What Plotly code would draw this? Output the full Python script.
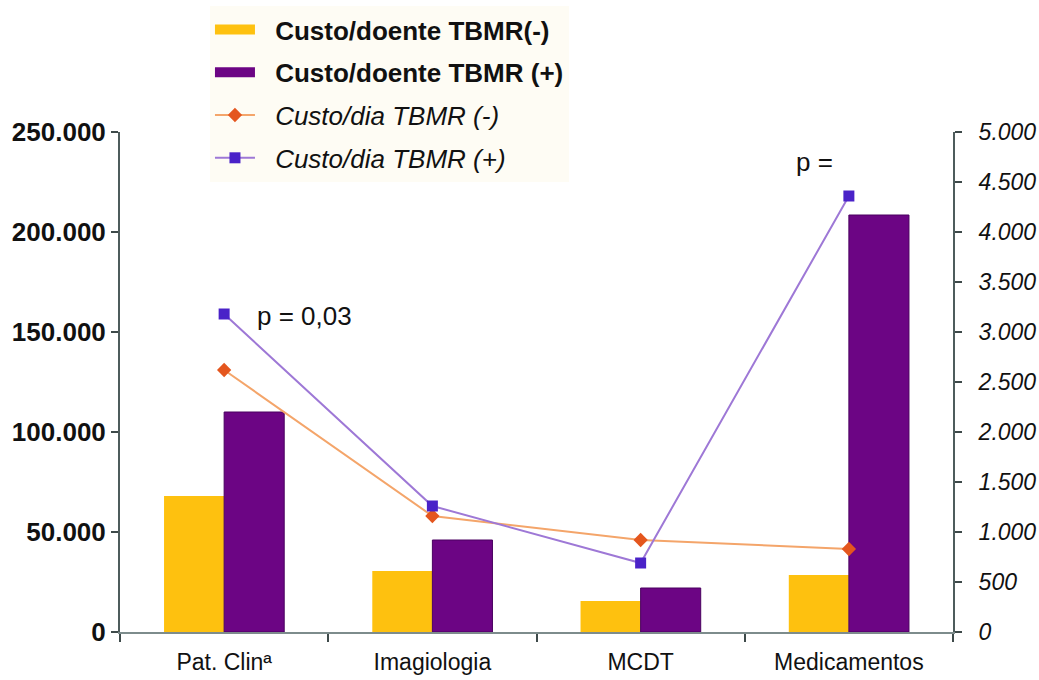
import plotly.graph_objects as go

categories = ["Pat. Clinª", "Imagiologia", "MCDT", "Medicamentos"]
custo_doente_neg = [68000, 30500, 15500, 28500]
custo_doente_pos = [110000, 46000, 22000, 208500]
custo_dia_neg = [2620, 1160, 920, 830]
custo_dia_pos = [3180, 1260, 690, 4360]
left_ticks = [0, 50000, 100000, 150000, 200000, 250000]
right_ticks = [0, 500, 1000, 1500, 2000, 2500, 3000, 3500, 4000, 4500, 5000]

FONT = "Liberation Sans, Arial, sans-serif"
ORANGE = "#FEC10F"
PURPLE = "#6C0584"
PAD = "\u2002\u200a"

fig = go.Figure()
# legend-only entries (wide swatches like the original)
fig.add_trace(go.Scatter(
    x=[categories[0]], y=[None], mode="lines", name=PAD + "<b>Custo/doente TBMR(-)</b>",
    line=dict(color=ORANGE, width=20), legendgroup="a", hoverinfo="skip"))
fig.add_trace(go.Scatter(
    x=[categories[0]], y=[None], mode="lines", name=PAD + "<b>Custo/doente TBMR (+)</b>",
    line=dict(color=PURPLE, width=20), legendgroup="b", hoverinfo="skip"))

fig.add_trace(go.Bar(
    x=categories, y=custo_doente_neg, name="Custo/doente TBMR(-)", showlegend=False,
    marker=dict(color=ORANGE, line=dict(width=0)), legendgroup="a"))
fig.add_trace(go.Bar(
    x=categories, y=custo_doente_pos, name="Custo/doente TBMR (+)", showlegend=False,
    marker=dict(color=PURPLE, line=dict(color="#4A0060", width=1)), legendgroup="b"))
fig.add_trace(go.Scatter(
    x=categories, y=custo_dia_neg, yaxis="y2", mode="lines+markers",
    name=PAD + "<i>Custo/dia TBMR (-)</i>",
    line=dict(color="#F4A56A", width=2),
    marker=dict(symbol="diamond", size=11, color="#E4561E"), legendgroup="c"))
fig.add_trace(go.Scatter(
    x=categories, y=custo_dia_pos, yaxis="y2", mode="lines+markers",
    name=PAD + "<i>Custo/dia TBMR (+)</i>",
    line=dict(color="#9E78D6", width=2),
    marker=dict(symbol="square", size=11, color="#4A22C8"), legendgroup="d"))

fig.add_annotation(x=0, y=custo_dia_pos[0], xref="x", yref="y2", text="p = 0,03",
                   showarrow=False, xanchor="left", xshift=31, yshift=-2,
                   font=dict(family=FONT, size=26, color="#111"))
fig.add_annotation(x=3, y=4700, xref="x", yref="y2", text="p =",
                   showarrow=False, xanchor="right", xshift=-14,
                   font=dict(family=FONT, size=26, color="#111"))

fig.update_layout(
    width=1039, height=680,
    margin=dict(l=120, r=86, t=132, b=48, pad=0, autoexpand=False),
    paper_bgcolor="white", plot_bgcolor="white",
    separators=",.",
    barmode="group", bargap=0.423, bargroupgap=0,
    font=dict(family=FONT, size=23, color="#111"),
    showlegend=True,
    legend=dict(x=0.108, y=1.252, xanchor="left", yanchor="top",
                bgcolor="#FEFCF4", font=dict(family=FONT, size=26, color="#111"),
                traceorder="grouped", tracegroupgap=6, itemwidth=40),
    xaxis=dict(type="category", showgrid=False, showline=True, linecolor="#7D8C8C",
               linewidth=2, ticks="outside", tickson="boundaries", ticklen=8,
               tickcolor="#3E4A4A", tickwidth=2, range=[-0.5, 3.5], automargin=False,
               ticklabelstandoff=8,
               tickfont=dict(family=FONT, size=23, color="#111")),
    yaxis=dict(range=[0, 250000], tickvals=left_ticks, tickformat=",d", automargin=False,
               showgrid=False, zeroline=False, showline=True, linecolor="#4E5C5C",
               linewidth=2, ticks="outside", ticklen=7, tickcolor="#3E4A4A", tickwidth=2,
               ticklabelstandoff=0,
               tickfont=dict(family=FONT, size=26, color="#111", weight="bold")),
    yaxis2=dict(range=[0, 5000], tickvals=right_ticks, tickformat=",d", automargin=False,
                overlaying="y", side="right", showgrid=False, zeroline=False,
                showline=True, linecolor="#4E5C5C", linewidth=2, ticks="outside",
                ticklen=7, tickcolor="#3E4A4A", tickwidth=2, ticklabelstandoff=12,
                tickfont=dict(family=FONT, size=23, color="#111", style="italic")),
)

fig.write_html("out.html", config={"displayModeBar": False},
               post_script="document.body.style.margin='0px';")
